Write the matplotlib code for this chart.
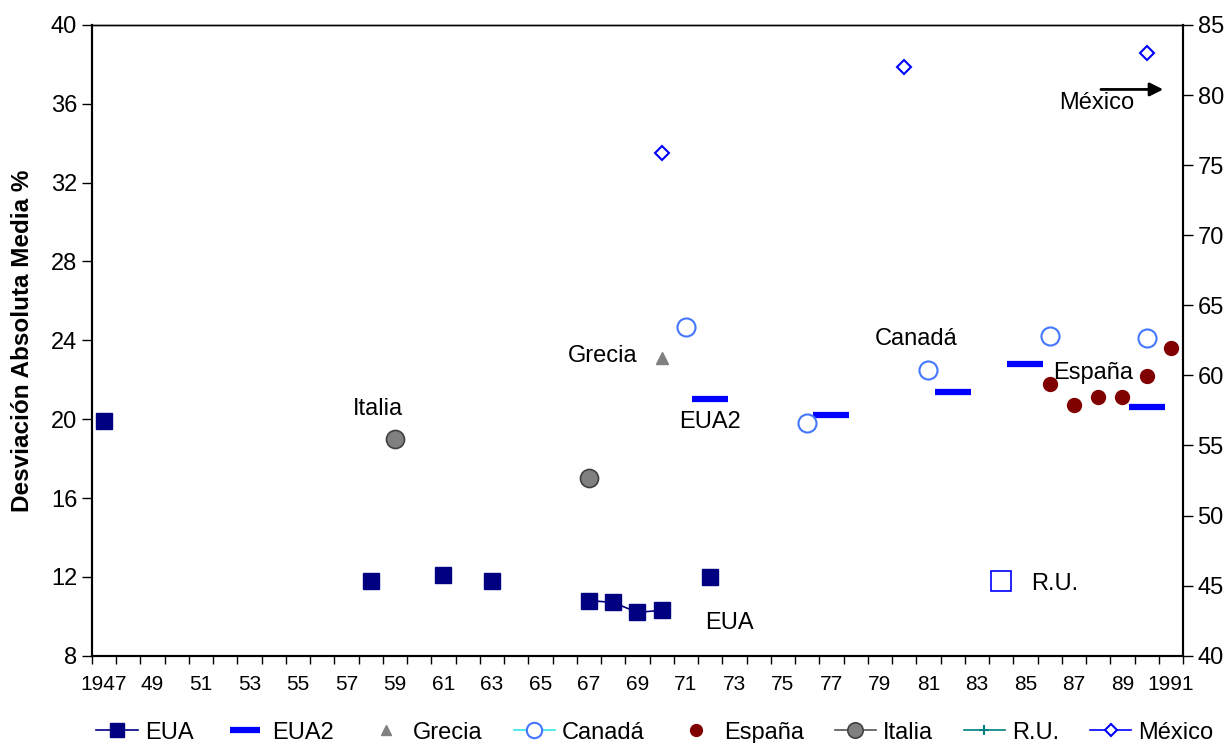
import numpy as np
import matplotlib
matplotlib.use("Agg")
import matplotlib.pyplot as plt
from matplotlib.lines import Line2D

plt.rcParams['font.family'] = ['Liberation Sans', 'DejaVu Sans']

# data (left axis unless noted)
years = np.arange(1947, 1992)

eua_years = [1947, 1958, 1961, 1963, 1967, 1968, 1969, 1970, 1972]
eua_vals = [19.9, 11.8, 12.1, 11.8, 10.8, 10.7, 10.2, 10.3, 12.0]

eua2_years = [1972, 1977, 1982, 1985, 1990]
eua2_vals = [21.0, 20.2, 21.4, 22.8, 20.6]

grecia_years = [1970]
grecia_vals = [23.1]

canada_years = [1971, 1976, 1981, 1986, 1990]
canada_vals = [24.7, 19.8, 22.5, 24.2, 24.1]

espana_years = [1986, 1987, 1988, 1989, 1990, 1991]
espana_vals = [21.8, 20.7, 21.1, 21.1, 22.2, 23.6]

italia_years = [1959, 1967]
italia_vals = [19.0, 17.0]

ru_years = [1984]
ru_vals = [11.8]

# right axis
mexico_years = [1970, 1980, 1990]
mexico_vals = [75.9, 82.0, 83.0]

xlabels = ['1947'] + [str(y)[2:] for y in range(1949, 1991, 2)] + ['1991']


def full(yrs, vals):
    # put the values on the yearly grid, gaps as NaN so lines break like Excel
    s = np.full(len(years), np.nan)
    for y, v in zip(yrs, vals):
        s[y - years[0]] = v
    return s


fig = plt.figure(figsize=(12.3, 7.43), dpi=100)
ax = fig.add_axes([0.0746, 0.1175, 0.8872, 0.8489])
ax2 = ax.twinx()

h_eua, = ax.plot(years, full(eua_years, eua_vals), '-', color='#000080', lw=1.2,
                 marker='s', ms=12, mfc='#000080', mec='#000080', label='EUA')
h_eua2, = ax.plot(eua2_years, eua2_vals, ls='none', marker='_', ms=26, mew=4.5,
                  color='#0000FF', label='EUA2')
h_gre, = ax.plot(grecia_years, grecia_vals, ls='none', marker='^', ms=9,
                 color='#808080', label='Grecia')
h_can, = ax.plot(years, full(canada_years, canada_vals), '-', color='#33E6E6', lw=1.2,
                 marker='o', ms=13, mfc='white', mec='#4477FF', mew=1.5, label='Canadá')
h_esp, = ax.plot(espana_years, espana_vals, ls='none', marker='o', ms=10,
                 color='#800000', label='España')
h_ita, = ax.plot(years, full(italia_years, italia_vals), '-', color='#555555', lw=1.2,
                 marker='o', ms=13, mfc='#808080', mec='#404040', mew=1.2, label='Italia')
ax.plot(ru_years, ru_vals, ls='none', marker='s', ms=14, mfc='none',
        mec='#0000FF', mew=1.2)
h_ru = Line2D([], [], color='#008080', lw=1.2, marker='+', ms=8, mew=1.5, label='R.U.')
h_mex, = ax2.plot(years, full(mexico_years, mexico_vals), '-', color='#0000FF', lw=1.2,
                  marker='D', ms=7, mfc='white', mec='#0000FF', mew=1.5, label='México')

ax.set_xlim(1946.5, 1991.5)
ax.set_ylim(8, 40)
ax2.set_ylim(40, 85)
ax.set_yticks(np.arange(8, 41, 4))
ax2.set_yticks(np.arange(40, 86, 5))

ax.set_xticks(np.arange(1947, 1992, 2))
ax.set_xticklabels(xlabels, fontsize=15)
ax.tick_params(axis='x', which='major', length=0, pad=14)
ax.set_xticks(np.arange(1946.5, 1992, 1), minor=True)
ax.tick_params(axis='x', which='minor', length=6, direction='out', width=1)
ax.tick_params(axis='y', labelsize=17, length=7, width=1, direction='out')
ax2.tick_params(axis='y', labelsize=17, length=7, width=1, direction='out')

for a in (ax, ax2):
    for sp in a.spines.values():
        sp.set_linewidth(1.5)
    a.spines['top'].set_linewidth(1.0)

ax.set_ylabel('Desviación Absoluta Media %', fontsize=17.5, fontweight='bold')
ax.yaxis.set_label_coords(-0.053, 0.5)

txt = dict(fontsize=17, ha='center', va='center')
ax.text(1958.3, 20.5, 'Italia', **txt)
ax.text(1967.55, 23.2, 'Grecia', **txt)
ax.text(1972.0, 19.84, 'EUA2', **txt)
ax.text(1980.5, 24.07, 'Canadá', **txt)
ax.text(1987.8, 22.36, 'España', **txt)
ax.text(1972.8, 9.66, 'EUA', **txt)
ax.text(1986.2, 11.64, 'R.U.', **txt)
ax2.text(1987.95, 79.43, 'México', **txt)
ax2.annotate('', xy=(1990.8, 80.4), xytext=(1988.0, 80.4),
             arrowprops=dict(arrowstyle='-|>', color='black', lw=2, mutation_scale=20))

handles = [h_eua, h_eua2, h_gre, h_can, h_esp, h_ita, h_ru, h_mex]
fig.legend(handles=handles, labels=[h.get_label() for h in handles],
           loc='center', bbox_to_anchor=(0.5325, 0.014), ncol=8, frameon=False,
           fontsize=17, handlelength=1.75, columnspacing=1.3, handletextpad=0.3,
           markerscale=0.85, borderpad=0.1)

fig.savefig('out.png', dpi=100)
